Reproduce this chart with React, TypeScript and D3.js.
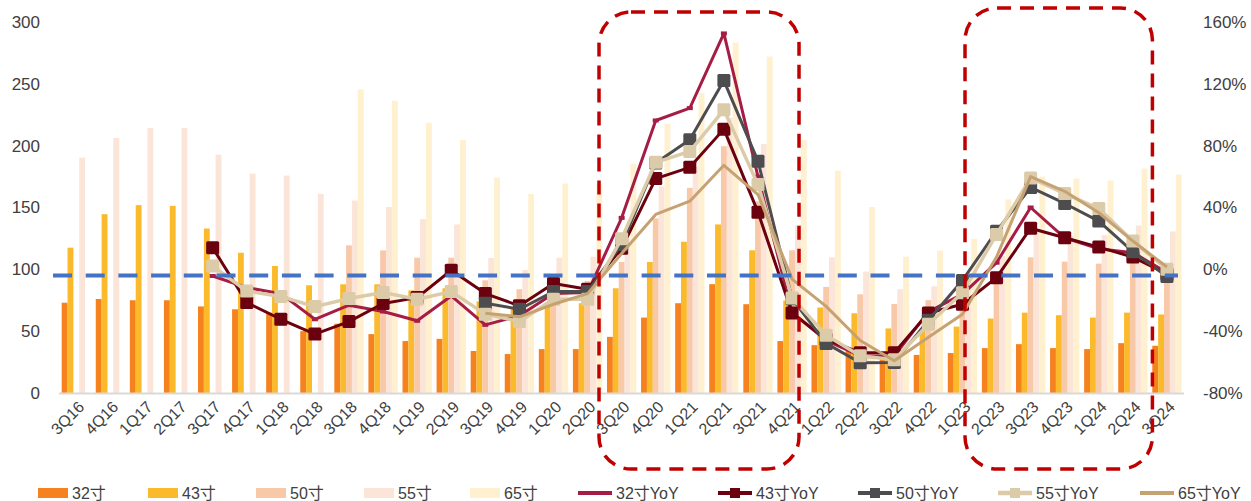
import React from "react";
import * as d3 from "d3";

const CATS = ["3Q16","4Q16","1Q17","2Q17","3Q17","4Q17","1Q18","2Q18","3Q18","4Q18","1Q19","2Q19","3Q19","4Q19","1Q20","2Q20","3Q20","4Q20","1Q21","2Q21","3Q21","4Q21","1Q22","2Q22","3Q22","4Q22","1Q23","2Q23","3Q23","4Q23","1Q24","2Q24","3Q24"];

const N = null;
const S32 = [73,76,75,75,70,67.7,65,50,56,47.6,42,43.8,34,31.5,35.5,35.5,45.4,61,72.6,88,71.8,42,38.7,34,27.4,30.8,32.3,36.3,39.5,36.3,35.5,40.3,38.2];
const S43 = [117.5,144.6,151.9,151.3,133,113.4,102.7,87.1,87.9,87.9,83,84.7,74,67.7,73,72.6,84.7,105.9,122.3,136.3,115.4,74.8,69.1,64.5,52.2,52,53.7,60.2,65,62.9,61,65,63.5];
const S50 = [N,N,N,N,N,N,N,N,119.4,115.3,109.4,109.4,91.1,83.9,80,90.6,106,141.2,165.9,199.6,155,115.4,85.8,79.8,72,75.1,78.5,90.6,109.7,106.2,104.6,110.8,94.6];
const S55 = [190.3,206.2,214.2,214.2,192.7,177.4,175.8,161,155.6,150.4,140.6,136.3,109.1,99.5,109.4,110.2,125,167,183,222.5,201.3,135.6,109.7,98.2,83.9,86.3,90.6,110.8,130,127,127.7,135.5,130.6];
const S65 = [N,N,N,N,N,N,N,N,245.5,236.3,218.5,204.6,174.2,161,169.4,169.4,185.5,217.7,242.5,283.3,272,204.5,179.8,150.4,110.2,115.2,124.7,156.5,175,173.4,171.8,181.5,176.6];

const Y32 = [N,N,N,N,-4.3,-11.8,-15.7,-32.3,-23.2,-27.3,-33.3,-17.2,-35.9,-30,-15.7,-15,33.3,96.3,104.3,152.6,60,-28,-46,-56,-56,-27.5,-16,4.3,40,20.4,13.3,10.8,-2];
const Y43 = [N,N,N,N,14,-21.5,-32.3,-41.9,-33.8,-22.1,-18.3,-0.6,-15.7,-23.6,-9.2,-12.9,13.6,58.7,66,90.7,37,-28.2,-45.2,-54,-54,-28.2,-22.6,-5.4,26.6,20.4,14.4,7.9,-3];
const Y50 = [N,N,N,N,N,N,N,N,N,N,N,N,-21.9,-25.8,-14.4,-14.4,16.1,68.8,83.9,122.1,70,-19,-47.9,-60.4,-60.2,-33,-7.2,24.7,53,42.6,31.2,11.4,-4.6];
const Y55 = [N,N,N,N,2.1,-14,-17.6,-24.1,-18.9,-15,-19.4,-14.4,-29,-33.8,-19.4,-19.4,19.8,69.2,76.3,103.2,54.8,-18.5,-42.6,-55.9,-58.5,-35.5,-15.2,22.6,59.1,49,39.3,18.3,0];
const Y65 = [N,N,N,N,N,N,N,N,N,N,N,N,-28.4,-30.7,-22.6,-15.7,10.3,35.5,44.1,67.3,48.4,-6.3,-24,-46,-59.1,-44,-29,8,60,50.5,36.6,18.3,1.5];

const LEFT_TICKS = [0, 50, 100, 150, 200, 250, 300];
const RIGHT_TICKS = [-80, -40, 0, 40, 80, 120, 160];
const REF_VALUE = 95; // blue dashed reference (left axis)
// highlight boxes: [first category, last category, left offset, right offset, top]
const HIGHLIGHTS: [string, string, number, number, number][] = [
  ["3Q20", "4Q21", -5.6, 24, 12],
  ["2Q23", "3Q24", -14.5, 2.5, 8],
];

const BAR_SERIES = [
  { name: "32寸", values: S32, color: "#F5821F" },
  { name: "43寸", values: S43, color: "#FBBA2C" },
  { name: "50寸", values: S50, color: "#F8C9A9" },
  { name: "55寸", values: S55, color: "#FBE4D8" },
  { name: "65寸", values: S65, color: "#FFF0CF" },
];
const LINE_SERIES = [
  { name: "32寸YoY", values: Y32, color: "#A51D45", width: 3, marker: "small" },
  { name: "43寸YoY", values: Y43, color: "#6B000E", width: 3, marker: "square" },
  { name: "50寸YoY", values: Y50, color: "#4D4D4F", width: 3, marker: "square" },
  { name: "55寸YoY", values: Y55, color: "#DCCBA8", width: 3.5, marker: "square" },
  { name: "65寸YoY", values: Y65, color: "#C6A273", width: 3, marker: "none" },
];

const FONT = "'Liberation Sans', Arial, 'Noto Sans CJK SC', sans-serif";

export default function App() {
  const W = 1251, H = 501;
  const x0 = d3.scaleBand<string>().domain(CATS).range([59.3, 1184]).padding(0);
  const step = x0.step();
  const x1 = d3.scaleBand<string>().domain(BAR_SERIES.map(s => s.name)).range([step * 0.07, step * 0.93]).padding(0);
  const yL = d3.scaleLinear().domain([0, 300]).range([393, 22]);
  const yR = d3.scaleLinear().domain([-80, 160]).range([393, 22]);
  const cx = (c: string) => (x0(c) as number) + step / 2;

  const legendX = [38, 148, 256, 364, 470, 578, 718, 858, 998, 1140];
  const legendY = 493;

  return (
    <svg width={W} height={H} style={{ position: "absolute", left: 0, top: 0, background: "#fff" }} fontFamily={FONT}>
      {BAR_SERIES.map(s => (
        <g key={s.name}>
          {s.values.map((v, i) => v == null ? null : (
            <rect key={i} x={(x0(CATS[i]) as number) + (x1(s.name) as number)} y={yL(v)} width={x1.bandwidth()} height={yL(0) - yL(v)} fill={s.color} />
          ))}
        </g>
      ))}
      <line x1={59} x2={1184} y1={yL(0) + 0.5} y2={yL(0) + 0.5} stroke="#D9D9D9" strokeWidth={2} />
      {LEFT_TICKS.map(t => (
        <text key={t} x={40} y={yL(t)} dy="0.35em" textAnchor="end" fontSize={17} fill="#404040">{t}</text>
      ))}
      {RIGHT_TICKS.map(t => (
        <text key={t} x={1203} y={yR(t)} dy="0.35em" textAnchor="start" fontSize={17} fill="#404040">{t + "%"}</text>
      ))}
      {CATS.map(c => (
        <text key={c} transform={`translate(${cx(c) + 5},${404}) rotate(-45)`} textAnchor="end" dy="0.35em" fontSize={16} fill="#404040">{c}</text>
      ))}
      {LINE_SERIES.map(s => {
        const line = d3.line<number | null>()
          .defined(v => v != null)
          .x((_, i) => cx(CATS[i]))
          .y(v => yR(v as number));
        return (
          <g key={s.name}>
            <path d={line(s.values) || ""} fill="none" stroke={s.color} strokeWidth={s.width} strokeLinejoin="round" />
            {s.values.map((v, i) => {
              if (v == null || s.marker === "none") return null;
              const px = cx(CATS[i]), py = yR(v);
              if (s.marker === "small") return <rect key={i} x={px - 3} y={py - 2} width={6} height={4} fill={s.color} />;
              return <rect key={i} x={px - 6.5} y={py - 6.5} width={13} height={13} rx={1.5} fill={s.color} />;
            })}
          </g>
        );
      })}
      <line x1={53} x2={1178} y1={yL(REF_VALUE)} y2={yL(REF_VALUE)} stroke="#4472C4" strokeWidth={4} strokeDasharray="19 13.7" />
      {HIGHLIGHTS.map(([a, b, lo, ro, top], k) => {
        const left = (x0(a) as number) + lo;
        const right = (x0(b) as number) + ro;
        return <rect key={k} x={left} y={top} width={right - left} height={469 - top} rx={32} ry={32} fill="none" stroke="#C00000" strokeWidth={3.5} strokeDasharray="14 9" />;
      })}
      {BAR_SERIES.map((s, k) => (
        <g key={s.name}>
          <rect x={legendX[k]} y={legendY - 5} width={30} height={10} fill={s.color} />
          <text x={legendX[k] + 34} y={legendY} dy="0.35em" fontSize={16} fill="#404040">{s.name}</text>
        </g>
      ))}
      {LINE_SERIES.map((s, j) => {
        const k = j + 5;
        return (
          <g key={s.name}>
            <line x1={legendX[k]} x2={legendX[k] + 34} y1={legendY} y2={legendY} stroke={s.color} strokeWidth={s.width + 1} />
            {s.marker === "square" && <rect x={legendX[k] + 12} y={legendY - 5} width={10} height={10} fill={s.color} />}
            {s.marker === "small" && <rect x={legendX[k] + 14} y={legendY - 2} width={6} height={4} fill={s.color} />}
            <text x={legendX[k] + 38} y={legendY} dy="0.35em" fontSize={16} fill="#404040">{s.name}</text>
          </g>
        );
      })}
    </svg>
  );
}
